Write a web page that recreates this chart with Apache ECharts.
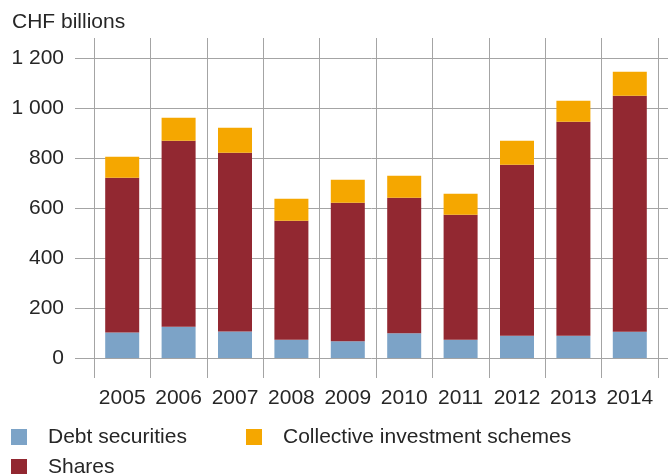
<!DOCTYPE html>
<html>
<head>
<meta charset="utf-8">
<title>CHF billions</title>
<script src="https://cdn.jsdelivr.net/npm/echarts@6/dist/echarts.min.js"></script>
<style>
  html, body { margin: 0; padding: 0; background: #ffffff; }
  #chart { width: 668px; height: 474px; }
</style>
</head>
<body>
<div id="chart"></div>
<script>
// Holdings by instrument type, CHF billions
const years = ['2005', '2006', '2007', '2008', '2009', '2010', '2011', '2012', '2013', '2014'];
const debtSecurities = [102, 125, 106, 73, 67, 99, 73, 89, 89, 105];
const shares = [619, 744, 715, 476, 554, 542, 500, 684, 856, 944];
const collectiveSchemes = [84, 92, 100, 88, 92, 88, 84, 96, 84, 96];

const FONT = '"Liberation Sans", Arial, sans-serif';
const TEXT = '#262626';
const GRID = '#a4a4a4';
const COLORS = { debt: '#7ca3c7', shares: '#922831', cis: '#f5a700' };

// Values shown with a space as thousands separator (e.g. "1 200")
function spaced(v) {
  return String(v).replace(/\B(?=(\d{3})+(?!\d))/g, ' ');
}

const chart = echarts.init(document.getElementById('chart'), null, { renderer: 'canvas' });

const legendText = {
  fontFamily: FONT, fontSize: 21, color: TEXT, lineHeight: 24,
  padding: [0, 0, 0, 16]
};
function legendAt(name, left, top) {
  return {
    data: [name], left: left, top: top, padding: 0, orient: 'horizontal',
    icon: 'rect', itemWidth: 16, itemHeight: 16, selectedMode: false,
    textStyle: legendText
  };
}

chart.setOption({
  animation: false,
  backgroundColor: '#ffffff',
  title: {
    text: 'CHF billions', left: 12, top: 12, padding: 0,
    textStyle: { fontFamily: FONT, fontSize: 21, fontWeight: 'normal', color: TEXT }
  },
  legend: [
    legendAt('Debt securities', 11, 425),
    legendAt('Collective investment schemes', 246, 425),
    legendAt('Shares', 11, 455)
  ],
  grid: [
    // value scale with horizontal rules and labels
    { left: 75, right: 0, top: 58, bottom: 116 },
    // bars and year columns
    { left: 94, right: 10, top: 38, bottom: 96 }
  ],
  xAxis: [
    { type: 'value', gridIndex: 0, show: false, min: 0, max: 1 },
    {
      type: 'category', gridIndex: 1, data: years, boundaryGap: true,
      axisLine: { show: false },
      axisTick: { show: false, interval: 0 },
      axisLabel: { fontFamily: FONT, fontSize: 21, color: TEXT, margin: 10, interval: 0, hideOverlap: false },
      splitLine: { show: true, interval: 0, lineStyle: { color: GRID, width: 1 } }
    }
  ],
  yAxis: [
    {
      type: 'value', gridIndex: 0, min: 0, max: 1200, interval: 200,
      axisLine: { show: false }, axisTick: { show: false },
      axisLabel: { fontFamily: FONT, fontSize: 21, color: TEXT, margin: 11, formatter: spaced },
      splitLine: { show: true, lineStyle: { color: GRID, width: 1 } }
    },
    {
      type: 'value', gridIndex: 1, min: -80, max: 1280, show: false,
      splitLine: { show: false }
    }
  ],
  series: [
    {
      name: 'Debt securities', type: 'bar', stack: 'total', data: debtSecurities,
      xAxisIndex: 1, yAxisIndex: 1, barWidth: 34, itemStyle: { color: COLORS.debt }
    },
    {
      name: 'Shares', type: 'bar', stack: 'total', data: shares,
      xAxisIndex: 1, yAxisIndex: 1, barWidth: 34, itemStyle: { color: COLORS.shares }
    },
    {
      name: 'Collective investment schemes', type: 'bar', stack: 'total', data: collectiveSchemes,
      xAxisIndex: 1, yAxisIndex: 1, barWidth: 34, itemStyle: { color: COLORS.cis }
    }
  ]
});
</script>
</body>
</html>
